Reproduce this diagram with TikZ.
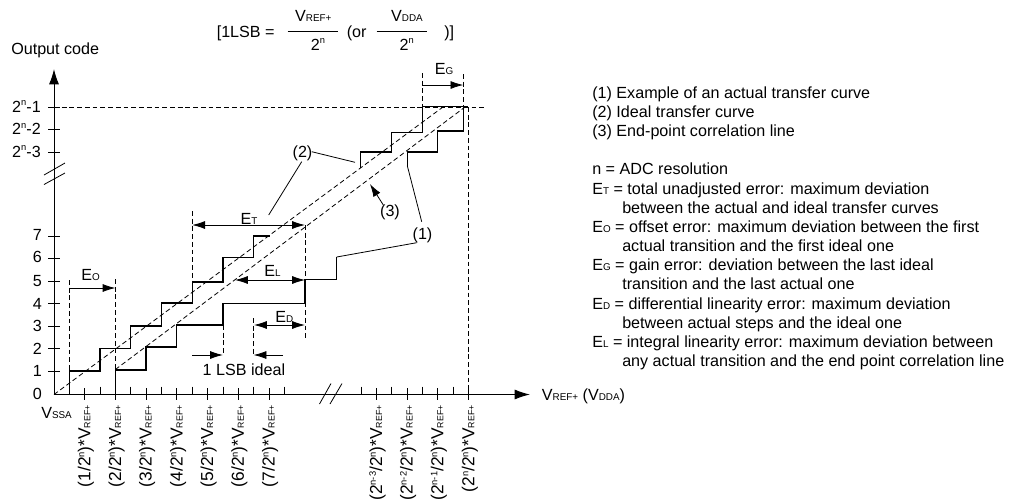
\documentclass[tikz,border=0pt]{standalone}
\usepackage{fontspec}
\setmainfont{Liberation Sans}
\usetikzlibrary{arrows.meta}
\newcommand\lo[1]{{\fontsize{7.4pt}{8pt}\selectfont #1}}
\newcommand\hi[1]{\raisebox{4.6pt}{\fontsize{7pt}{8pt}\selectfont #1}}
\newcommand\Vr{V\lo{REF+}}
\newcommand\rVr{V{\fontsize{6.6pt}{8pt}\selectfont REF+}}
\tikzset{
  txt/.style={inner sep=0pt,font=\fontsize{12.1pt}{14pt}\selectfont},
  thinl/.style={line width=0.6pt},
  stairs/.style={line width=0.95pt},
  dashln/.style={line width=0.6pt,dash pattern=on 3.6pt off 2.2pt},
  dimtip/.style={-{Latex[length=9.6pt,width=6pt]},line width=0.6pt},
  dimboth/.style={{Latex[length=9.6pt,width=6pt]}-{Latex[length=9.6pt,width=6pt]},line width=0.6pt},
  axisln/.style={-{Latex[length=11.5pt,width=7.5pt]},line width=0.75pt},
  rot/.style={inner sep=0pt,font=\fontsize{13pt}{15pt}\selectfont,rotate=90,anchor=base east},
  leg/.style={txt,anchor=base west},
}
\begin{document}
\begin{tikzpicture}[x=0.75pt,y=-0.75pt]
\useasboundingbox (0,0) rectangle (1011,501);
\fill[white] (0,0) rectangle (1011,501);
% axes
\coordinate (O) at (54,394.5);
\coordinate (ytop) at (54,69);
\coordinate (xend) at (530,394.5);
\draw[axisln] (O) -- (ytop);
\draw[axisln] (O) -- (xend);
% y ticks
\foreach \y in {107,129.5,152,236,258,281,303.5,326,348.5,371}
  \draw[thinl] (48,\y) -- (60,\y);
\draw[thinl] (44,175) -- (65,163);
\draw[thinl] (44,184.5) -- (65,173);
\draw[thinl] (319.5,404) -- (331,383.5);
\draw[thinl] (330,404) -- (342,383.5);
% x ticks
\foreach \x in {69.3,100,130.8,161.5,192.2,222.9,253.6,284.3,361,391.7,422.7,453.3}
  \draw[thinl] (\x,386.5) -- (\x,394.5);
\foreach \x in {84.7,115.4,146,176.8,207.5,238.2,269,376.3,407,437.7,468.7}
  \draw[thinl] (\x,388) -- (\x,400);
% y labels
\node[txt,anchor=base east] (yA) at (41,112) {2\hi{n}-1};
\node[txt,anchor=base east] (yB) at (41,134.5) {2\hi{n}-2};
\node[txt,anchor=base east] (yC) at (41,157) {2\hi{n}-3};
\foreach \n/\y in {7/240,6/262.7,5/286,4/309,3/331.5,2/354,1/376,0/399}
  \node[txt,anchor=base east] (y\n) at (42,\y) {\n};
\node[txt,anchor=base west] (vssa) at (41,418) {V\lo{SSA}};
\node[txt,anchor=base west] (ocode) at (11,54.5) {Output code};
\node[txt,anchor=base west] (vref) at (541.7,400) {\Vr{} (V\lo{DDA})};
% rotated x labels
\foreach \x/\k in {84.7/1,115.4/2,146/3,176.8/4,207.5/5,238.2/6,269/7}
  \node[rot] (r\k) at (\x+5.7,405) {(\k/2\hi{n})*\rVr};
\node[rot] (ra) at (382,405) {(2\hi{n-3}/2\hi{n})*\rVr};
\node[rot] (rb) at (412.7,405) {(2\hi{n-2}/2\hi{n})*\rVr};
\node[rot] (rc) at (443.4,405) {(2\hi{n-1}/2\hi{n})*\rVr};
\node[rot] (rd) at (474.4,405) {(2\hi{n}/2\hi{n})*\rVr};
% title formula
\node[txt,anchor=base west] (lsb) at (216.5,37) {[1LSB =};
\node[txt,anchor=base] (f1n) at (313.3,21.7) {\Vr};
\node[txt,anchor=base] (f1d) at (318,50) {2\hi{n}};
\node[txt,anchor=base west] (orw) at (346.5,37) {(or};
\node[txt,anchor=base] (f2n) at (407,21.7) {V\lo{DDA}};
\node[txt,anchor=base] (f2d) at (406.7,50) {2\hi{n}};
\node[txt,anchor=base west] (cl) at (444,37) {)]};
\coordinate (a1) at (287.5,31.5); \coordinate (a2) at (338,31.5);
\coordinate (b1) at (376.7,31.5); \coordinate (b2) at (426.7,31.5);
\draw[thinl] (a1) -- (a2);
\draw[thinl] (b1) -- (b2);
% stairs
\draw[stairs] (69.3,394.5) -- (69.3,371) -- (100,371) -- (100,348.5) -- (130.7,348.5) -- (130.7,326) -- (161.5,326) -- (161.5,303) -- (192.2,303) -- (192.2,282) -- (222.9,282) -- (222.9,257.5) -- (253.6,257.5) -- (253.6,236) -- (270,236);
\draw[stairs] (115.4,394.5) -- (115.4,370) -- (146,370) -- (146,347) -- (176.8,347) -- (176.8,325) -- (222.9,325) -- (222.9,303.7) -- (305,303.7) -- (305,279.5) -- (336.7,279.5) -- (336.7,257);
\draw[stairs] (360.7,168) -- (360.7,152) -- (391.7,152) -- (391.7,132.7) -- (422.7,132.7) -- (422.7,106.7) -- (468,106.7);
\draw[stairs] (407.3,165.7) -- (407.3,152) -- (437.7,152) -- (437.7,131) -- (463.3,131) -- (463.3,106.7);
% dashed lines
\draw[dashln] (O) -- (443,107);
\draw[dashln] (115.4,369.5) -- (465,107);
\draw[dashln] (54,107) -- (485,107);
\draw[dashln] (69.3,280) -- (69.3,371);
\draw[dashln] (115.4,279) -- (115.4,370);
\draw[dashln] (192.2,211) -- (192.2,282);
\draw[dashln] (305,225) -- (305,339);
\draw[dashln] (253.6,318) -- (253.6,355);
\draw[dashln] (222.9,325) -- (222.9,355);
\draw[dashln] (422.7,73) -- (422.7,107);
\draw[dashln] (463.3,74) -- (463.3,107);
\draw[dashln] (468.7,107) -- (468.7,394.5);
% dimensions
\coordinate (eo1) at (69.3,288); \coordinate (eo2) at (115.4,288);
\coordinate (et1) at (192.2,225); \coordinate (et2) at (305,225);
\coordinate (el1) at (235,280); \coordinate (el2) at (305,280);
\coordinate (ed1) at (254,325); \coordinate (ed2) at (305,325);
\coordinate (eg1) at (422.7,85); \coordinate (eg2) at (463.3,85);
\coordinate (l1) at (192.2,355); \coordinate (l2) at (222.9,355);
\coordinate (l3) at (283,355); \coordinate (l4) at (253.6,355);
\draw[dimtip] (eo1) -- (eo2);
\draw[dimboth] (et1) -- (et2);
\draw[dimboth] (el1) -- (el2);
\draw[dimboth] (ed1) -- (ed2);
\draw[dimtip] (eg1) -- (eg2);
\draw[dimtip] (l1) -- (l2);
\draw[dimtip] (l3) -- (l4);
\node[txt,anchor=base] (eO) at (90.5,280.7) {E\lo{O}};
\node[txt,anchor=base] (eT) at (249,224) {E\lo{T}};
\node[txt,anchor=base] (eL) at (272.5,276.7) {E\lo{L}};
\node[txt,anchor=base] (eD) at (284.3,322.3) {E\lo{D}};
\node[txt,anchor=base] (eG) at (444,74.7) {E\lo{G}};
\node[txt,anchor=base] (lsbi) at (244,375) {1 LSB ideal};
% leaders
\node[txt] (n1) at (422.5,235) {(1)};
\node[txt] (n2) at (302.5,153) {(2)};
\node[txt] (n3) at (390,212) {(3)};
\coordinate (c1a) at (336.7,257); \coordinate (c1e) at (416.7,242.7);
\coordinate (c1b) at (407.3,165.7); \coordinate (c1f) at (421.7,221.7);
\coordinate (c2a) at (268.7,215); \coordinate (c2e) at (301.7,161.7);
\coordinate (c2b) at (355,162.3); \coordinate (c2f) at (311.7,151.7);
\coordinate (c3) at (370,184); \coordinate (c3e) at (383.3,205);
\draw[thinl] (c1a) -- (c1e);
\draw[thinl] (c1f) -- (c1b);
\draw[thinl] (c2e) -- (c2a);
\draw[thinl] (c2f) -- (c2b);
\draw[dimtip] (c3e) -- (c3);
% legend
\node[leg] (t1) at (592,98.2) {(1) Example of an actual transfer curve};
\node[leg] (t2) at (592,117.3) {(2) Ideal transfer curve};
\node[leg] (t3) at (592,136.5) {(3) End-point correlation line};
\node[leg] (t4) at (592,174.9) {n = ADC resolution};
\node[leg] (t5) at (592,194) {E\lo{T} = total unadjusted error: maximum deviation};
\node[leg] (t6) at (622,213.2) {between the actual and ideal transfer curves};
\node[leg] (t7) at (592,232.3) {E\lo{O} = offset error: maximum deviation between the first};
\node[leg] (t8) at (622,251.5) {actual transition and the first ideal one};
\node[leg] (t9) at (592,270.7) {E\lo{G} = gain error: deviation between the last ideal};
\node[leg] (t10) at (622,289.8) {transition and the last actual one};
\node[leg] (t11) at (592,309) {E\lo{D} = differential linearity error: maximum deviation};
\node[leg] (t12) at (622,328.1) {between actual steps and the ideal one};
\node[leg] (t13) at (592,347.3) {E\lo{L} = integral linearity error: maximum deviation between};
\node[leg] (t14) at (622,366.4) {any actual transition and the end point correlation line};
\end{tikzpicture}
\end{document}
